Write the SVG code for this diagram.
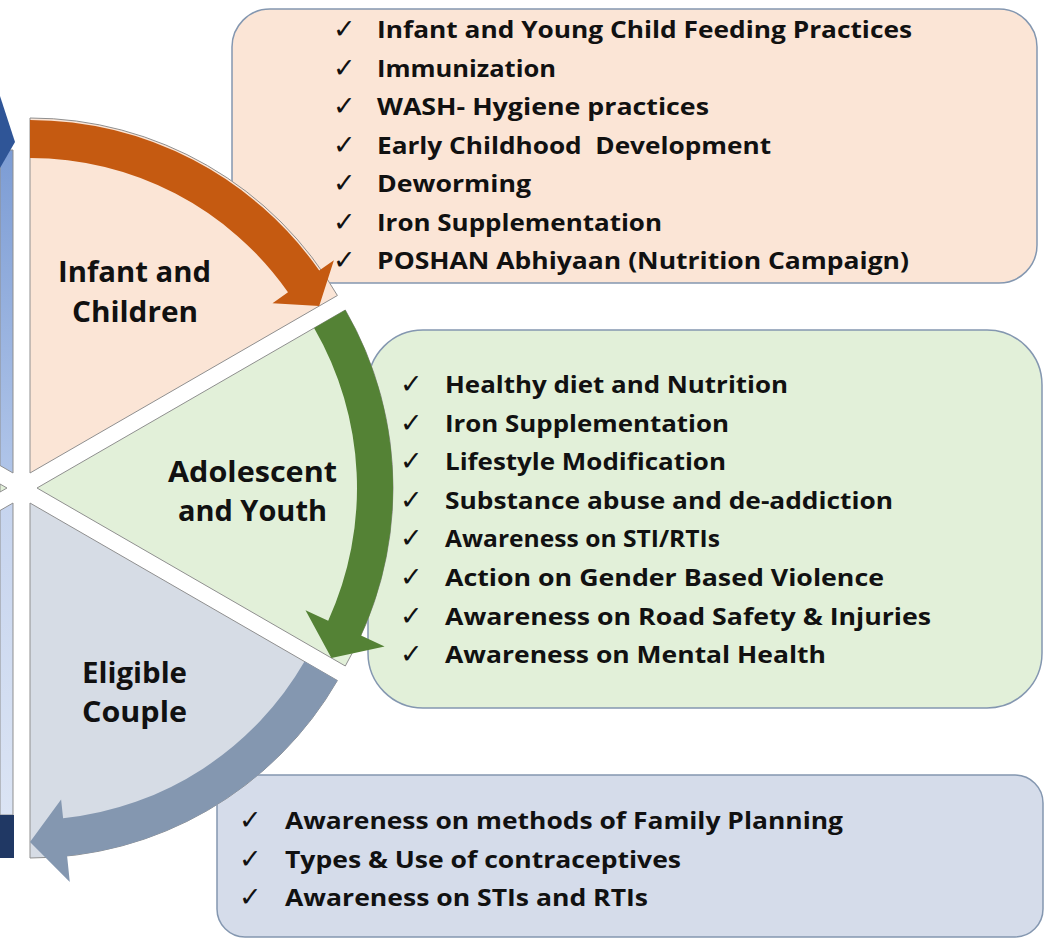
<svg xmlns="http://www.w3.org/2000/svg" width="1044" height="939" viewBox="0 0 1044 939">
<defs>
<linearGradient id="gUp" x1="0" y1="0" x2="0" y2="1"><stop offset="0" stop-color="#7c9cd4"/><stop offset="1" stop-color="#b0c5e9"/></linearGradient>
<linearGradient id="gDn" x1="0" y1="0" x2="0" y2="1"><stop offset="0" stop-color="#c6d4ee"/><stop offset="1" stop-color="#dbe4f4"/></linearGradient>
</defs>
<style>
.box{stroke:#8497b0;stroke-width:1.5}
.wedge{stroke:#8f8f8f;stroke-width:1}
.t{font-family:"Open Sans","Liberation Sans",sans-serif;font-weight:700;font-size:24px;fill:#111111}
.lbl{font-family:"Open Sans","Liberation Sans",sans-serif;font-weight:700;font-size:28px;fill:#111111}
.ck{font-family:"DejaVu Sans",sans-serif;font-size:27px;fill:#111111}
</style>
<rect width="1044" height="939" fill="#ffffff"/>

<g id="left-edge">
<path d="M0,150 L13,150 L13,473 L0,465.5 Z" fill="url(#gUp)" stroke="#8f8f8f" stroke-width="1"/>
<polygon points="0,96 15,142 0,168" fill="#2f5597"/>
<polygon points="0,484 7,488 0,492" fill="#e2f0d9" stroke="#8f8f8f" stroke-width="1"/>
<path d="M0,510.5 L13,503 L13,815 L0,815 Z" fill="url(#gDn)" stroke="#8f8f8f" stroke-width="1"/>
<rect x="0" y="815" width="14" height="43" fill="#203864"/>
</g>

<g id="box-infant">
<rect class="box" x="232" y="9" width="805" height="274" rx="38" fill="#fbe5d6"/>
<g class="ck"><text x="333" y="38">✓</text><text x="333" y="77">✓</text><text x="333" y="115">✓</text><text x="333" y="154">✓</text><text x="333" y="192">✓</text><text x="333" y="231">✓</text><text x="333" y="269">✓</text></g>
<g class="t">
<text x="377" y="38" textLength="535" lengthAdjust="spacingAndGlyphs">Infant and Young Child Feeding Practices</text>
<text x="377" y="77" textLength="179" lengthAdjust="spacingAndGlyphs">Immunization</text>
<text x="377" y="115" textLength="332" lengthAdjust="spacingAndGlyphs">WASH- Hygiene practices</text>
<text x="377" y="154" textLength="394" lengthAdjust="spacingAndGlyphs" xml:space="preserve">Early Childhood  Development</text>
<text x="377" y="192" textLength="154" lengthAdjust="spacingAndGlyphs">Deworming</text>
<text x="377" y="231" textLength="285" lengthAdjust="spacingAndGlyphs">Iron Supplementation</text>
<text x="377" y="269" textLength="532" lengthAdjust="spacingAndGlyphs">POSHAN Abhiyaan (Nutrition Campaign)</text>
</g>
</g>

<g id="box-adolescent">
<rect class="box" x="368" y="330" width="674" height="378" rx="55" fill="#e2f0d9"/>
<g class="ck"><text x="400" y="393">✓</text><text x="400" y="432">✓</text><text x="400" y="470">✓</text><text x="400" y="509">✓</text><text x="400" y="547">✓</text><text x="400" y="586">✓</text><text x="400" y="625">✓</text><text x="400" y="663">✓</text></g>
<g class="t">
<text x="445" y="393" textLength="343" lengthAdjust="spacingAndGlyphs">Healthy diet and Nutrition</text>
<text x="445" y="432" textLength="284" lengthAdjust="spacingAndGlyphs">Iron Supplementation</text>
<text x="445" y="470" textLength="281" lengthAdjust="spacingAndGlyphs">Lifestyle Modification</text>
<text x="445" y="509" textLength="448" lengthAdjust="spacingAndGlyphs">Substance abuse and de-addiction</text>
<text x="445" y="547" textLength="275" lengthAdjust="spacingAndGlyphs">Awareness on STI/RTIs</text>
<text x="445" y="586" textLength="439" lengthAdjust="spacingAndGlyphs">Action on Gender Based Violence</text>
<text x="445" y="625" textLength="486" lengthAdjust="spacingAndGlyphs">Awareness on Road Safety &amp; Injuries</text>
<text x="445" y="663" textLength="381" lengthAdjust="spacingAndGlyphs">Awareness on Mental Health</text>
</g>
</g>

<g id="box-couple">
<rect class="box" x="217" y="775" width="826" height="162" rx="28" fill="#d5dcea"/>
<g class="ck"><text x="239" y="829">✓</text><text x="239" y="868">✓</text><text x="239" y="906">✓</text></g>
<g class="t">
<text x="285" y="829" textLength="558" lengthAdjust="spacingAndGlyphs">Awareness on methods of Family Planning</text>
<text x="285" y="868" textLength="396" lengthAdjust="spacingAndGlyphs">Types &amp; Use of contraceptives</text>
<text x="285" y="906" textLength="363" lengthAdjust="spacingAndGlyphs">Awareness on STIs and RTIs</text>
</g>
</g>

<g id="wedge-infant">
<path class="wedge" d="M30,473 L30,118 A355,355 0 0 1 337.4,295.5 Z" fill="#fbe5d6"/>
<text class="lbl" x="58" y="282" textLength="153" lengthAdjust="spacingAndGlyphs">Infant and</text>
<text class="lbl" x="72" y="322" textLength="126" lengthAdjust="spacingAndGlyphs">Children</text>
</g>

<g id="wedge-adolescent">
<path class="wedge" d="M37,488 L345.3,310 A356,356 0 0 1 345.3,666 Z" fill="#e2f0d9"/>
<text class="lbl" x="168" y="482" textLength="169" lengthAdjust="spacingAndGlyphs">Adolescent</text>
<text class="lbl" x="178" y="521" textLength="149" lengthAdjust="spacingAndGlyphs">and Youth</text>
</g>

<g id="wedge-couple">
<path class="wedge" d="M30,503 L337.4,680.5 A355,355 0 0 1 30,858 Z" fill="#d6dce5"/>
<text class="lbl" x="82" y="683" textLength="105" lengthAdjust="spacingAndGlyphs">Eligible</text>
<text class="lbl" x="82" y="722" textLength="105" lengthAdjust="spacingAndGlyphs">Couple</text>
</g>

<g id="connectors">
<path d="M30,120 A353,353 0 0 1 319.2,270.5 L333.9,260.2 L319.2,306 L272.5,303.2 L288,292.3 A315,315 0 0 0 30,158 Z" fill="#c55a11"/>
<path d="M345.3,310 A356,356 0 0 1 361,635.6 L384.6,646.4 L331.4,658 L305.5,610.3 L328.2,620.7 A320,320 0 0 0 314.1,328 Z" fill="#548235"/>
<path d="M337.4,680.5 A355,355 0 0 1 67.1,856.1 L69.8,881.9 L30,842 L61.1,799.4 L63.1,818.3 A317,317 0 0 0 304.5,661.5 Z" fill="#8497b0"/>
</g>
</svg>
